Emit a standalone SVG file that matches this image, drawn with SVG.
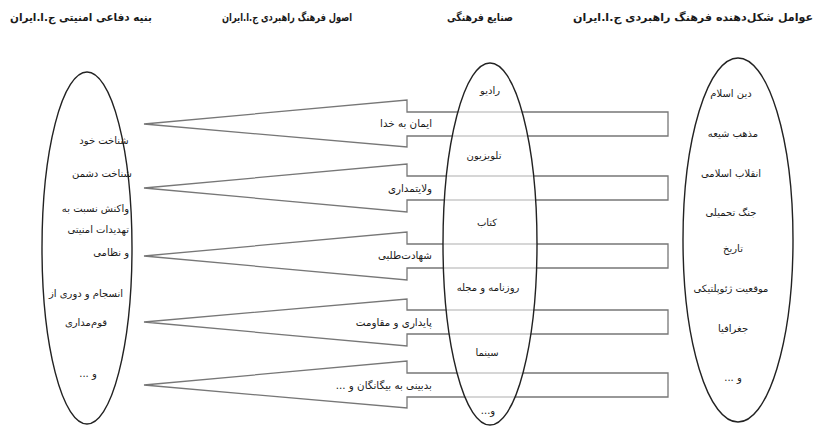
<svg xmlns="http://www.w3.org/2000/svg" width="819" height="427" viewBox="0 0 819 427">
<style>
text{font-family:"DejaVu Sans","Noto Sans",sans-serif;fill:#1a1a1a;}
.h{font-size:11px;font-weight:bold;}
.t{font-size:10px;}
.l{font-size:10.3px;}
.arrow{fill:#fff;stroke:#777;stroke-width:1.3;}
.ell{fill:none;stroke:#222;stroke-width:1.4;}
.mid{fill:#fff;fill-opacity:0.6;stroke:#222;stroke-width:1.4;}
</style>
<rect width="819" height="427" fill="#fff"/>
<g id="headers">
<text class="h" x="152" y="21" text-anchor="start" direction="rtl" textLength="142" lengthAdjust="spacingAndGlyphs">بنیه دفاعی  امنیتی ج.ا.ایران</text>
<text class="h" x="352" y="21" text-anchor="start" direction="rtl" textLength="130" lengthAdjust="spacingAndGlyphs">اصول فرهنگ راهبردی ج.ا.ایران</text>
<text class="h" x="513" y="21" text-anchor="start" direction="rtl" textLength="66" lengthAdjust="spacingAndGlyphs">صنایع فرهنگی</text>
<text class="h" x="813" y="21" text-anchor="start" direction="rtl" textLength="240" lengthAdjust="spacingAndGlyphs">عوامل شکل‌دهنده فرهنگ راهبردی ج.ا.ایران</text>
</g>
<g id="connectors">
<polygon class="arrow" points="144,124 407,100 407,112 668,112 668,136 407,136 407,147"/>
<polygon class="arrow" points="144,188 407,164 407,176 668,176 668,200 407,200 407,212"/>
<polygon class="arrow" points="144,256 407,232 407,244 668,244 668,268 407,268 407,280"/>
<polygon class="arrow" points="144,322 407,299 407,310 668,310 668,334 407,334 407,346"/>
<polygon class="arrow" points="144,385 407,361 407,373 668,373 668,397 407,397 407,408"/>
</g>
<g id="node-defense">
<ellipse class="ell" cx="87" cy="248" rx="45" ry="176"/>
<text class="t" x="104" y="144" text-anchor="middle" direction="rtl">شناخت خود</text>
<text class="t" x="102" y="177" text-anchor="middle" direction="rtl">شناخت دشمن</text>
<text class="t" x="129" y="212" text-anchor="start" direction="rtl">واکنش نسبت به</text>
<text class="t" x="129" y="233" text-anchor="start" direction="rtl">تهدیدات امنیتی</text>
<text class="t" x="129" y="256" text-anchor="start" direction="rtl">و نظامی</text>
<text class="t" x="86" y="297" text-anchor="middle" direction="rtl">انسجام و دوری از</text>
<text class="t" x="86" y="326" text-anchor="middle" direction="rtl">قوم‌مداری</text>
<text class="t" x="88" y="377" text-anchor="middle" direction="rtl">و ...</text>
</g>
<g id="node-industries">
<ellipse class="mid" cx="490" cy="244" rx="47" ry="181"/>
<text class="t" x="490" y="94" text-anchor="middle" direction="rtl">رادیو</text>
<text class="t" x="484" y="159" text-anchor="middle" direction="rtl">تلویزیون</text>
<text class="t" x="487" y="226" text-anchor="middle" direction="rtl">کتاب</text>
<text class="t" x="488" y="291" text-anchor="middle" direction="rtl">روزنامه و مجله</text>
<text class="t" x="487" y="356" text-anchor="middle" direction="rtl">سینما</text>
<text class="t" x="488" y="414" text-anchor="middle" direction="rtl">و...</text>
</g>
<g id="node-factors">
<ellipse class="ell" cx="738" cy="240" rx="55" ry="182"/>
<text class="t" x="731" y="97" text-anchor="middle" direction="rtl">دین اسلام</text>
<text class="t" x="733" y="137" text-anchor="middle" direction="rtl">مذهب شیعه</text>
<text class="t" x="731" y="177" text-anchor="middle" direction="rtl">انقلاب اسلامی</text>
<text class="t" x="731" y="216" text-anchor="middle" direction="rtl">جنگ تحمیلی</text>
<text class="t" x="733" y="252" text-anchor="middle" direction="rtl">تاریخ</text>
<text class="t" x="731" y="292" text-anchor="middle" direction="rtl">موقعیت ژئوپلتیکی</text>
<text class="t" x="733" y="332" text-anchor="middle" direction="rtl">جغرافیا</text>
<text class="t" x="733" y="381" text-anchor="middle" direction="rtl">و ...</text>
</g>
<g id="arrow-labels">
<text class="l" x="432" y="127" text-anchor="start" direction="rtl">ایمان به خدا</text>
<text class="l" x="432" y="192" text-anchor="start" direction="rtl">ولایتمداری</text>
<text class="l" x="432" y="259" text-anchor="start" direction="rtl">شهادت‌طلبی</text>
<text class="l" x="432" y="326" text-anchor="start" direction="rtl">پایداری و مقاومت</text>
<text class="l" x="432" y="389" text-anchor="start" direction="rtl">بدبینی به بیگانگان و ...</text>
</g>
</svg>
